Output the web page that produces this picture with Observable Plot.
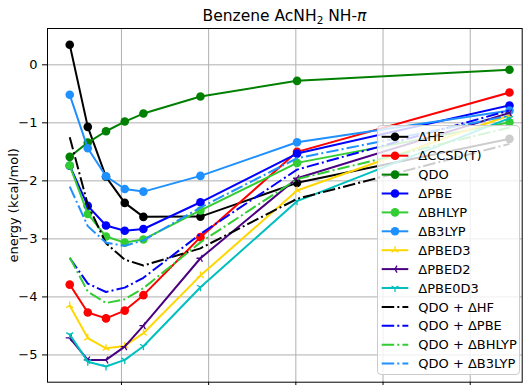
<!DOCTYPE html>
<html><head><meta charset="utf-8">
<script src="https://cdn.jsdelivr.net/npm/d3@7"></script>
<script src="https://cdn.jsdelivr.net/npm/@observablehq/plot@0.6"></script>
<style>
body{margin:0;background:#fff;font-family:"DejaVu Sans",sans-serif;color:#000;}
#wrap{position:relative;width:531px;height:385px;overflow:hidden;}
#title{height:24px;width:531px;position:relative;}
#title span{position:absolute;left:47px;width:475px;text-align:center;top:8px;font-size:15.5px;line-height:16px;white-space:nowrap;}
#title sub{font-size:10.5px;line-height:0;vertical-align:-3px;}
#legend{position:absolute;left:377px;top:125px;width:143px;height:250px;background:rgba(255,255,255,0.8);border:1px solid #cccccc;border-radius:4px;box-sizing:border-box;}
#legend svg{display:block;}
</style></head><body>
<div id="wrap"><div id="title"><span>Benzene AcNH<sub>2</sub> NH-<i>π</i></span></div><div id="chart"></div><div id="legend"></div></div>
<script>
// separation (arbitrary linear units; x tick labels are cut off)
const xValues = [3.407, 3.614, 3.823, 4.038, 4.252, 4.906, 6.014, 8.450];
const xTicks = [4, 5, 6, 7, 8];
const yTicks = [-5, -4, -3, -2, -1, 0];

const dHF      = [0.345, -1.069, -1.93, -2.379, -2.62, -2.616, -2.034, -1.276];
const dCCSDT   = [-3.788, -4.27, -4.37, -4.236, -3.97, -2.97, -1.50, -0.478];
const qdo      = [-1.586, -1.34, -1.145, -0.978, -0.84, -0.547, -0.276, -0.086];
const dPBE     = [-1.74, -2.43, -2.77, -2.86, -2.83, -2.369, -1.53, -0.70];
const dBHLYP   = [-1.736, -2.57, -2.96, -3.064, -3.01, -2.51, -1.69, -0.99];
const dB3LYP   = [-0.517, -1.437, -1.92, -2.14, -2.185, -1.914, -1.334, -0.79];
const dPBED3   = [-4.15, -4.71, -4.886, -4.845, -4.627, -3.633, -2.167, -0.87];
const dPBED2   = [-4.707, -5.086, -5.086, -4.857, -4.495, -3.334, -1.955, -0.83];
const dPBE0D3  = [-4.65, -5.116, -5.2, -5.086, -4.85, -3.834, -2.35, -0.92];
const qdoHF    = [-1.248, -2.41, -3.075, -3.357, -3.46, -3.163, -2.31, -1.362];
const qdoPBE   = [-3.33, -3.77, -3.915, -3.84, -3.67, -2.916, -1.806, -0.786];
const qdoBHLYP = [-3.32, -3.91, -4.105, -4.04, -3.85, -3.06, -1.97, -1.08];
const qdoB3LYP = [-2.10, -2.78, -3.065, -3.12, -3.025, -2.46, -1.61, -0.876];

function tri(angles) {
  return {draw(ctx, size) {
    const r = Math.sqrt(size / Math.PI);
    for (const a of angles) { ctx.moveTo(0, 0); ctx.lineTo(r * Math.cos(a), r * Math.sin(a)); }
  }};
}
const d2r = Math.PI / 180;
const triDown = tri([90 * d2r, -150 * d2r, -30 * d2r]);
const triUp = tri([-90 * d2r, 150 * d2r, 30 * d2r]);
const triLeft = tri([180 * d2r, -60 * d2r, 60 * d2r]);

const DD = "12.5,3.1,2,3.1";
const series = [
  {label: "ΔHF", values: dHF, color: "#000000", marker: "o"},
  {label: "ΔCCSD(T)", values: dCCSDT, color: "#ff0000", marker: "o"},
  {label: "QDO", values: qdo, color: "#008000", marker: "o"},
  {label: "ΔPBE", values: dPBE, color: "#0000ff", marker: "o"},
  {label: "ΔBHLYP", values: dBHLYP, color: "#32cd32", marker: "o"},
  {label: "ΔB3LYP", values: dB3LYP, color: "#1e90ff", marker: "o"},
  {label: "ΔPBED3", values: dPBED3, color: "#ffd700", marker: triUp},
  {label: "ΔPBED2", values: dPBED2, color: "#4b0082", marker: triLeft},
  {label: "ΔPBE0D3", values: dPBE0D3, color: "#00bfbf", marker: triDown},
  {label: "QDO + ΔHF", values: qdoHF, color: "#000000", dash: DD},
  {label: "QDO + ΔPBE", values: qdoPBE, color: "#0000ff", dash: DD},
  {label: "QDO + ΔBHLYP", values: qdoBHLYP, color: "#32cd32", dash: DD},
  {label: "QDO + ΔB3LYP", values: qdoB3LYP, color: "#1e90ff", dash: DD}
];

const marks = [
  Plot.gridX(xTicks, {stroke: "#b0b0b0", strokeOpacity: 1, strokeWidth: 1}),
  Plot.gridY(yTicks, {stroke: "#b0b0b0", strokeOpacity: 1, strokeWidth: 1})
];
for (const s of series) {
  const data = xValues.map((x, i) => ({x, y: s.values[i]}));
  marks.push(Plot.line(data, {x: "x", y: "y", stroke: s.color, strokeWidth: 2, strokeDasharray: s.dash || null, strokeLinejoin: "round", strokeLinecap: s.dash ? "butt" : "square"}));
  if (s.marker === "o") {
    marks.push(Plot.dot(data, {x: "x", y: "y", r: 4.3, fill: s.color, stroke: null}));
  } else if (s.marker) {
    marks.push(Plot.dot(data, {x: "x", y: "y", r: 4, symbol: s.marker, fill: "none", stroke: s.color, strokeWidth: 1.3}));
  }
}
marks.push(Plot.frame({stroke: "#000", strokeWidth: 1}));
marks.push(Plot.axisY({ticks: yTicks, tickFormat: d => (d < 0 ? "\u2212" : "") + Math.abs(d), tickSize: 5, tickPadding: 5, label: "energy (kcal/mol)", labelAnchor: "center", labelArrow: "none", labelOffset: 39, fontSize: 13}));
marks.push(Plot.axisX({ticks: xTicks, tickSize: 5, tickFormat: () => "", label: null}));

const chart = Plot.plot({
  width: 531,
  height: 361,
  marginLeft: 47,
  marginRight: 9.3,
  marginTop: 4,
  marginBottom: 3.3,
  x: {domain: [3.152, 8.596]},
  y: {domain: [-5.47, 0.626]},
  style: {fontFamily: "DejaVu Sans, sans-serif", fontSize: "13px", color: "#000", background: "transparent", overflow: "visible"},
  marks
});
document.getElementById("chart").appendChild(chart);

// legend
const lg = d3.select("#legend").append("svg").attr("width", 141).attr("height", 248)
  .style("font-family", "DejaVu Sans, sans-serif").style("font-size", "13px");
series.forEach((s, i) => {
  const y = 10.8 + i * 18.9;
  const g = lg.append("g").attr("transform", `translate(0,${y})`);
  g.append("line").attr("x1", 3.7).attr("x2", 30.3).attr("y1", 0).attr("y2", 0)
    .attr("stroke", s.color).attr("stroke-width", 2).attr("stroke-dasharray", s.dash || null);
  if (s.marker === "o") {
    g.append("circle").attr("cx", 17).attr("cy", 0).attr("r", 4.3).attr("fill", s.color);
  } else if (s.marker) {
    g.append("path").attr("transform", "translate(17,0)")
      .attr("d", d3.symbol(s.marker, 16 * Math.PI)()).attr("fill", "none")
      .attr("stroke", s.color).attr("stroke-width", 1.3);
  }
  g.append("text").attr("x", 40.3).attr("y", 0).attr("dy", "0.36em").attr("fill", "#000").text(s.label);
});
</script>
</body></html>
